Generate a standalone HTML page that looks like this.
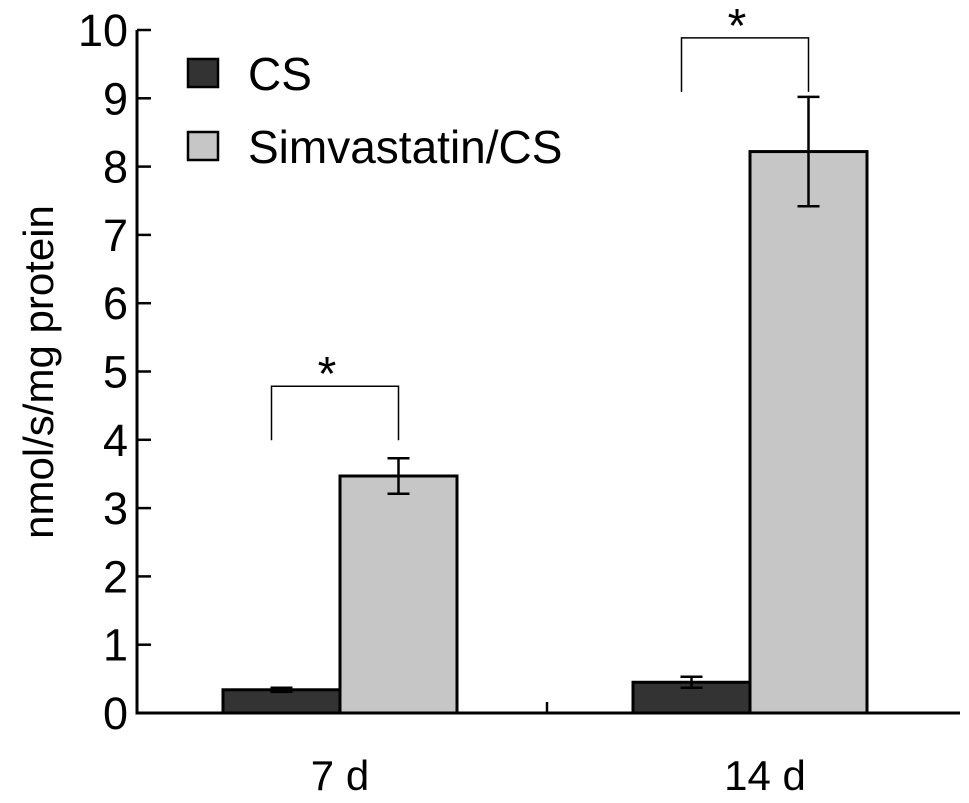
<!DOCTYPE html>
<html><head><meta charset="utf-8"><style>
html,body{margin:0;padding:0;background:#fff;}
svg{display:block;font-family:"Liberation Sans",Arial,sans-serif;}
</style></head><body>
<svg id="chart" width="969" height="803" viewBox="0 0 969 803"></svg>
<script>
const categories=["7 d","14 d"];
const csValues=[0.34,0.45];
const csErr=[0.03,0.08];
const simValues=[3.47,8.22];
const simErr=[0.26,0.8];
const yTicks=[0,1,2,3,4,5,6,7,8,9,10];
const seriesNames=["CS","Simvastatin/CS"];

const NS="http://www.w3.org/2000/svg";
const svg=document.getElementById('chart');
const x0=137,x1=960,yBase=713,yTop=30;
function y(v){return yBase-(yBase-yTop)*v/10;}
const groupCenter=[340,750];
const bracketGap=[72,59];
const barW=117;
function mk(tag,attrs,parent){const e=document.createElementNS(NS,tag);for(const k in attrs)e.setAttribute(k,attrs[k]);(parent||svg).appendChild(e);return e;}

categories.forEach((c,i)=>{
  const cx=groupCenter[i];
  const b1=mk('rect',{x:cx-barW,y:y(csValues[i]),width:barW,height:yBase-y(csValues[i]),fill:'#333',stroke:'#000','stroke-width':3});
  
  
  const b2=mk('rect',{x:cx,y:y(simValues[i]),width:barW,height:yBase-y(simValues[i]),fill:'#c6c6c6',stroke:'#000','stroke-width':3});
  
  
  [[cx-barW/2,csValues[i],csErr[i]],[cx+barW/2,simValues[i],simErr[i]]].forEach(([ex,v,e],j)=>{
    const g=mk('g',{stroke:'#000','stroke-width':2.5,fill:'none'});
    
    
    mk('line',{x1:ex,x2:ex,y1:y(v+e),y2:y(v-e)},g);
    mk('line',{x1:ex-11,x2:ex+11,y1:y(v+e),y2:y(v+e)},g);
    mk('line',{x1:ex-11,x2:ex+11,y1:y(v-e),y2:y(v-e)},g);
  });
  const top=y(simValues[i]+simErr[i])-bracketGap[i];
  const br=mk('path',{d:`M${cx-barW/2-10},${top+54} V${top} H${cx+barW/2} V${top+54}`,stroke:'#000','stroke-width':1.5,fill:'none'});
  
  
  const st=mk('text',{x:cx-13,y:top+4,'font-size':48,'text-anchor':'middle'});
  st.textContent='*';
  
  
  const lab=mk('text',{x:cx+(i?15:0),y:790,'font-size':42,'text-anchor':'middle'});
  lab.textContent=categories[i];
  
  
});

const ax=mk('path',{d:`M${x0},${yTop} V${yBase} H${x1}`,stroke:'#000','stroke-width':3,fill:'none'});


mk('line',{x1:547,x2:547,y1:yBase,y2:yBase-11,stroke:'#000','stroke-width':2.5});
yTicks.forEach(t=>{
  mk('line',{x1:x0,x2:x0+14,y1:y(t),y2:y(t),stroke:'#000','stroke-width':2.5});
  const tl=mk('text',{x:128,y:y(t)+16,'font-size':45,'text-anchor':'end'});
  tl.textContent=t;
  
  
});
const yt=mk('text',{x:0,y:0,'font-size':42,'text-anchor':'middle',transform:'translate(53,372) rotate(-90)'});
yt.textContent='nmol/s/mg protein';



const fills=['#333','#c6c6c6'];
seriesNames.forEach((n,i)=>{
  const g=mk('g',{});
  
  
  mk('rect',{x:188,y:59+i*73,width:30,height:28,fill:fills[i],stroke:'#000','stroke-width':2.5},g);
  const t=mk('text',{x:248,y:90+i*73,'font-size':46},g);
  t.textContent=n;
});
</script>
</body></html>
